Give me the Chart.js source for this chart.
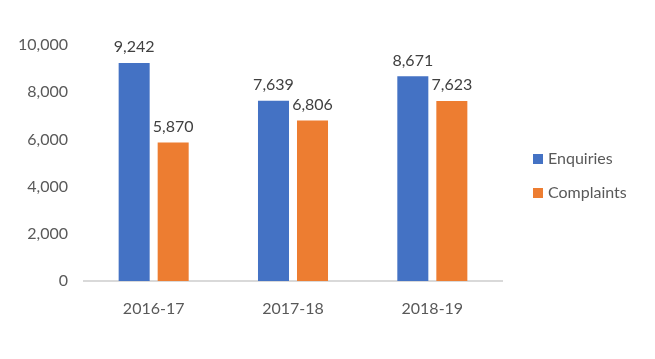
<!DOCTYPE html>
<html>
<head>
<meta charset="utf-8">
<script src="https://cdn.jsdelivr.net/npm/chart.js@4"></script>
<style>
html,body{margin:0;padding:0;background:#fff;}
#wrap{width:655px;height:359px;}
</style>
</head>
<body>
<div id="wrap"><canvas id="c" width="655" height="359"></canvas></div>
<script>
const categories = ["2016-17", "2017-18", "2018-19"];
const enquiries = [9242, 7639, 8671];
const complaints = [5870, 6806, 7623];
const seriesNames = ["Enquiries", "Complaints"];
const yTicks = [0, 2000, 4000, 6000, 8000, 10000];

const FONT = "Lato, 'Open Sans', sans-serif";
const fmt = v => v.toLocaleString("en-US");

const labelPlugin = {
  id: "dataLabels",
  afterDatasetsDraw(chart) {
    const ctx = chart.ctx;
    ctx.save();
    ctx.font = "16px " + FONT;
    ctx.fillStyle = "#404040";
    ctx.textAlign = "center";
    ctx.textBaseline = "bottom";
    chart.data.datasets.forEach((ds, i) => {
      chart.getDatasetMeta(i).data.forEach((bar, j) => {
        ctx.fillText(fmt(ds.data[j]), bar.x, bar.y - 8);
      });
    });
    ctx.restore();
  }
};

const legendPlugin = {
  id: "sideLegend",
  afterDraw(chart) {
    const ctx = chart.ctx;
    ctx.save();
    ctx.font = "16px " + FONT;
    ctx.textBaseline = "middle";
    ctx.textAlign = "left";
    chart.data.datasets.forEach((ds, i) => {
      const y = 159 + i * 34;
      ctx.fillStyle = ds.backgroundColor;
      ctx.fillRect(533, y - 5, 10, 10);
      ctx.fillStyle = "#595959";
      ctx.fillText(ds.label, 548, y);
    });
    ctx.restore();
  }
};

new Chart(document.getElementById("c"), {
  type: "bar",
  data: {
    labels: categories,
    datasets: [
      { label: seriesNames[0], data: enquiries, backgroundColor: "#4472C4" },
      { label: seriesNames[1], data: complaints, backgroundColor: "#ED7D31" }
    ]
  },
  options: {
    responsive: false,
    animation: false,
    devicePixelRatio: 1,
    layout: { padding: { top: 45, right: 153, bottom: 0, left: 0 } },
    plugins: { legend: { display: false }, tooltip: { enabled: false } },
    datasets: { bar: { categoryPercentage: 0.56, barPercentage: 0.795 } },
    scales: {
      x: {
        grid: { display: false },
        border: { display: true, color: "#D9D9D9", width: 2 },
        ticks: { color: "#595959", font: { family: FONT, size: 16 }, padding: 10 },
        afterFit(s) { s.height = 359 - 281; }
      },
      y: {
        min: 0, max: 10000,
        afterBuildTicks(s) { s.ticks = yTicks.map(v => ({ value: v })); },
        grid: { display: false },
        border: { display: false },
        ticks: { color: "#595959", font: { family: FONT, size: 16 }, padding: 8, callback: v => fmt(v) },
        afterFit(s) { s.width = 84; }
      }
    }
  },
  plugins: [labelPlugin, legendPlugin]
});
</script>
</body>
</html>
